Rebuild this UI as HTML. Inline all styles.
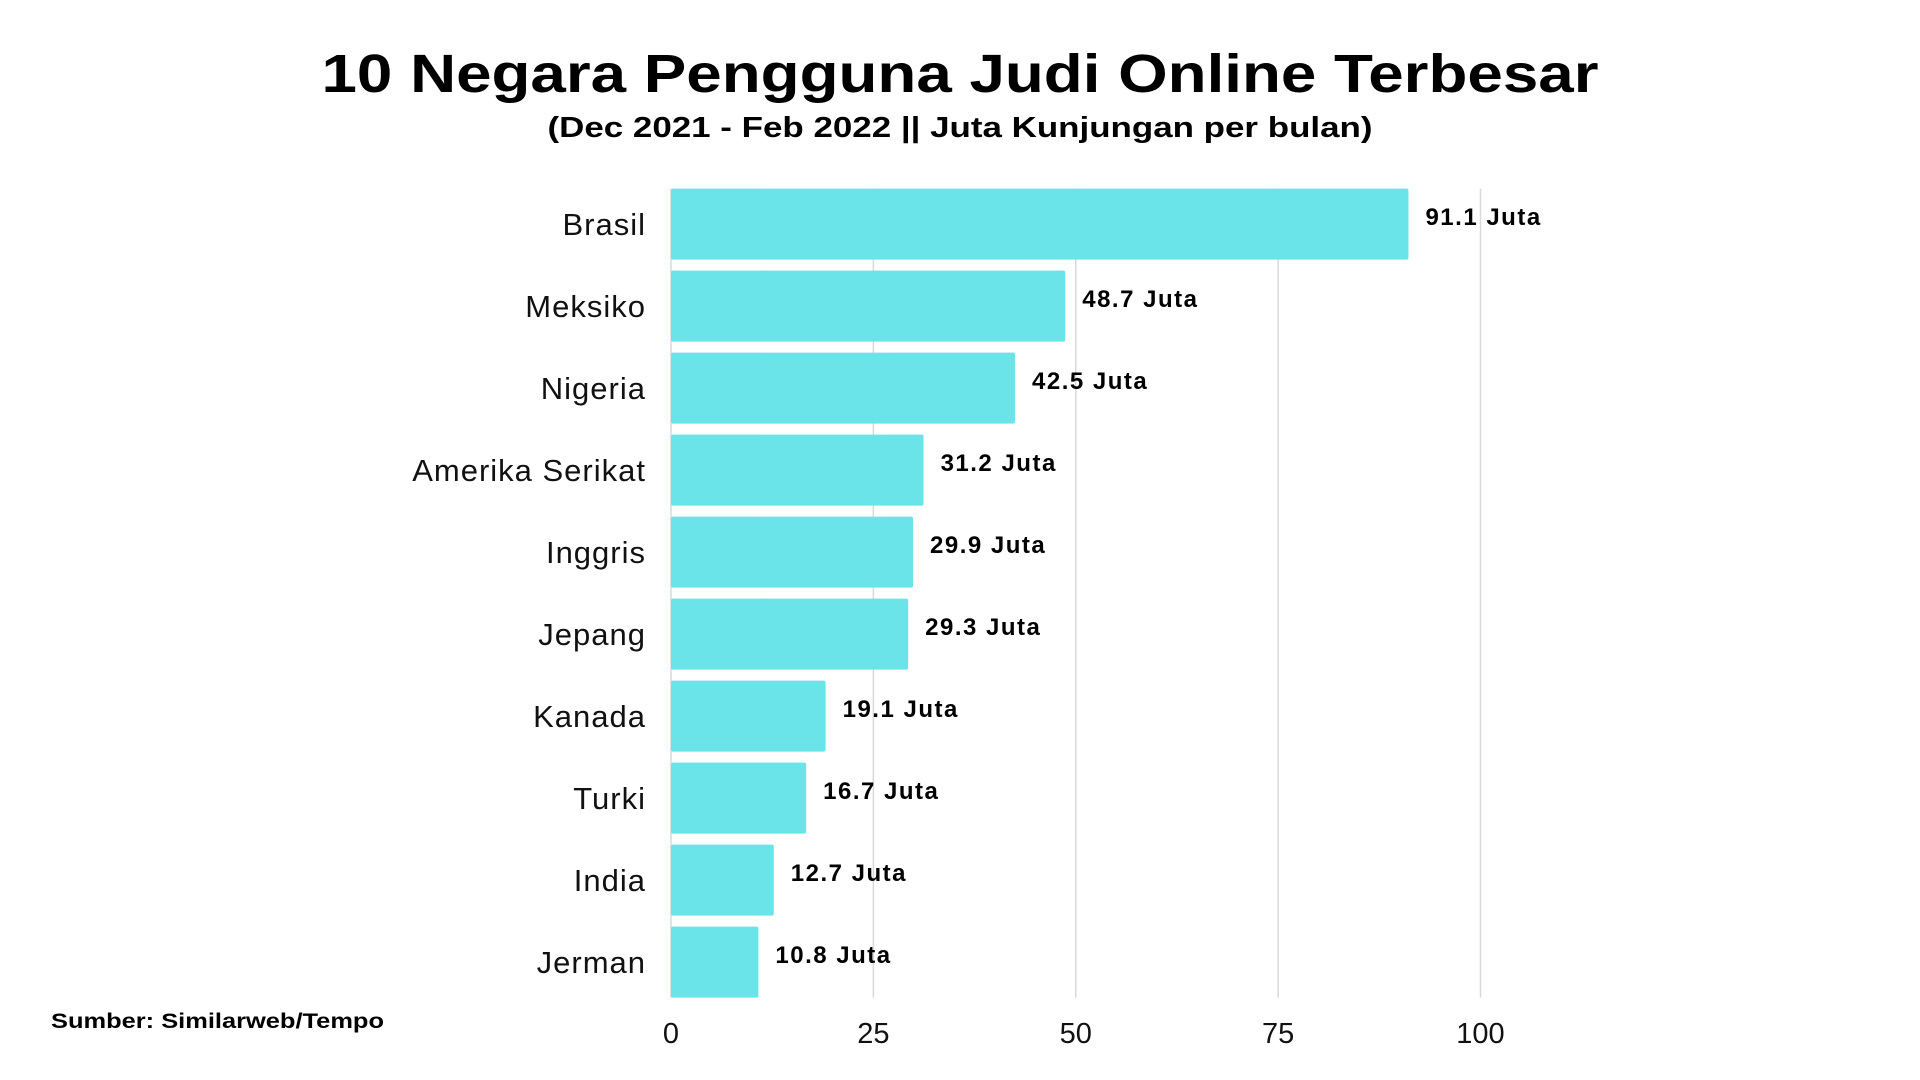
<!DOCTYPE html>
<html><head><meta charset="utf-8">
<style>
html,body{margin:0;padding:0;background:#fff;width:1920px;height:1080px;overflow:hidden}
svg{display:block}
text{font-family:"Liberation Sans",sans-serif}
</style></head>
<body>
<svg id="chart" width="1920" height="1080" viewBox="0 0 1920 1080">
<text x="960" y="92" text-anchor="middle" font-size="54" font-weight="900" fill="#000" textLength="1277" lengthAdjust="spacingAndGlyphs">10 Negara Pengguna Judi Online Terbesar</text>
<text x="960" y="137" text-anchor="middle" font-size="29" font-weight="bold" fill="#000" textLength="825" lengthAdjust="spacingAndGlyphs">(Dec 2021 - Feb 2022 || Juta Kunjungan per bulan)</text>
<g id="grid"></g>
<g id="bars"></g>
<g id="labels"></g>
<text x="51" y="1028" font-size="21" font-weight="bold" fill="#000" textLength="333" lengthAdjust="spacingAndGlyphs">Sumber: Similarweb/Tempo</text>
</svg>
<script>
const categories=["Brasil","Meksiko","Nigeria","Amerika Serikat","Inggris","Jepang","Kanada","Turki","India","Jerman"];
const values=[91.1,48.7,42.5,31.2,29.9,29.3,19.1,16.7,12.7,10.8];
const ticks=[0,25,50,75,100];
const NS="http://www.w3.org/2000/svg";
const x0=671,x100=1480.5,top0=188.6,pitch=82,barH=71;
const xs=v=>x0+(x100-x0)*v/100;
const ys=i=>top0+i*pitch;
const bottom=ys(categories.length-1)+barH;
function mk(t,a,p){const e=document.createElementNS(NS,t);for(const k in a)e.setAttribute(k,a[k]);p.appendChild(e);return e;}
const g=document.getElementById('grid'),b=document.getElementById('bars'),l=document.getElementById('labels');
ticks.forEach(t=>{
 const ln=mk('line',{x1:xs(t),x2:xs(t),y1:top0,y2:bottom,stroke:'#d9d9d9','stroke-width':1.5},g);
 
 
 const tx=mk('text',{x:xs(t),y:1043,'text-anchor':'middle','font-size':29,fill:'#111'},g);
 tx.textContent=t;
 
 
});
categories.forEach((c,i)=>{
 const r=mk('rect',{x:x0,y:ys(i),width:xs(values[i])-x0,height:barH,rx:2,fill:'#6ae4e8'},b);
 
 
 const cy=ys(i)+barH/2;
 const ct=mk('text',{x:646,y:cy+11,'text-anchor':'end','font-size':31,'letter-spacing':1,fill:'#111'},l);
 ct.textContent=c;
 
 
 const vt=mk('text',{x:xs(values[i])+17,y:cy+1,'font-size':24,'font-weight':'bold','letter-spacing':1.5,fill:'#000'},l);
 vt.textContent=values[i].toFixed(1)+' Juta';
 
 
});
</script>
</body></html>
